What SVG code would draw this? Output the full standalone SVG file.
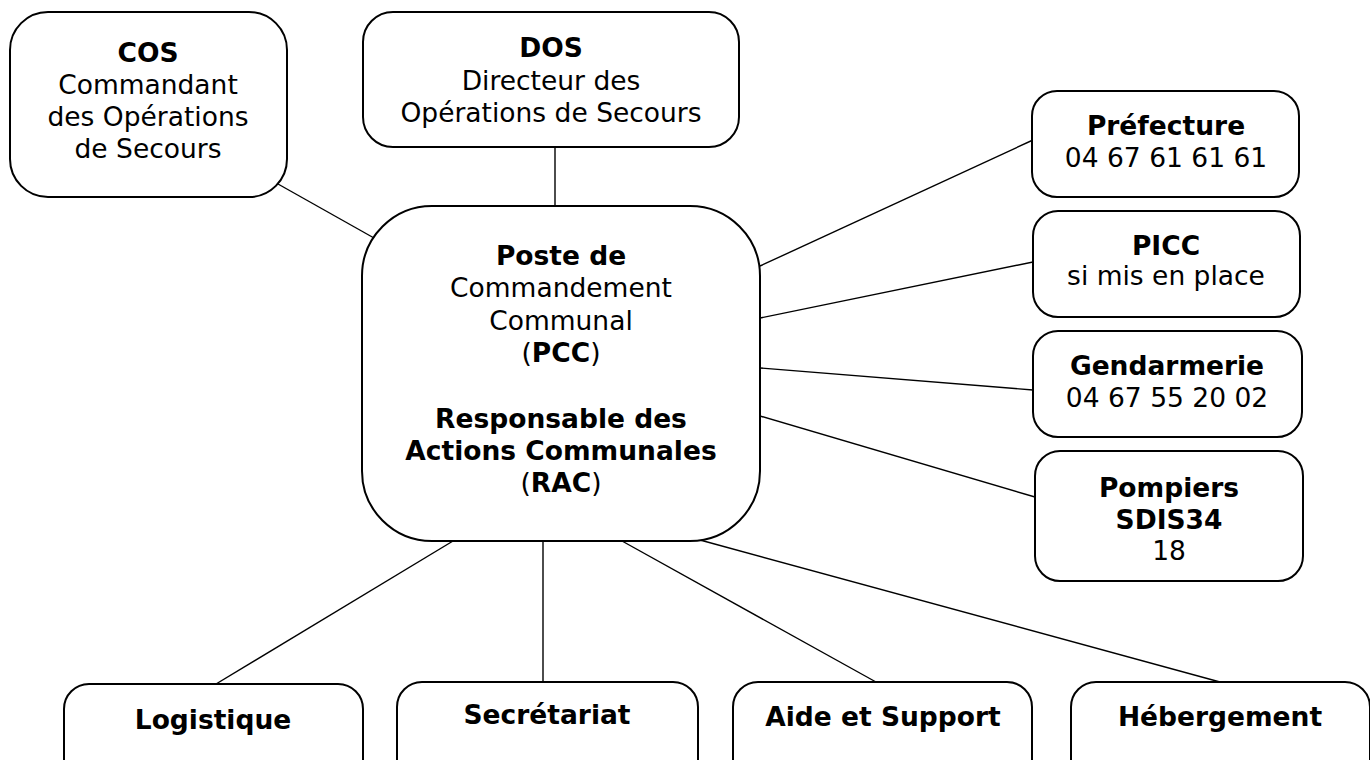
<svg xmlns="http://www.w3.org/2000/svg" width="1370" height="760" viewBox="0 0 1370 760">
<style>
.box{fill:#fff;stroke:#000;stroke-width:2}
.ln{stroke:#000;stroke-width:1.4;fill:none}
text{font-family:"DejaVu Sans","Verdana",sans-serif;font-size:26.5px;fill:#000;text-anchor:middle}
.b{font-weight:bold}
</style>
<rect width="1370" height="760" fill="#fff"/>
<g id="connectors">
<line class="ln" x1="278" y1="184" x2="374" y2="238"/>
<line class="ln" x1="555" y1="147" x2="555" y2="206"/>
<line class="ln" x1="760" y1="266" x2="1033" y2="140"/>
<line class="ln" x1="760" y1="318" x2="1033" y2="262"/>
<line class="ln" x1="760" y1="368" x2="1033" y2="390"/>
<line class="ln" x1="760" y1="416" x2="1035" y2="497"/>
<line class="ln" x1="453" y1="541" x2="216" y2="684"/>
<line class="ln" x1="543" y1="541" x2="543" y2="682"/>
<line class="ln" x1="622" y1="541" x2="876" y2="682"/>
<line class="ln" x1="700" y1="540" x2="1220" y2="682"/>
</g>
<g id="cos">
<rect class="box" x="10" y="12" width="277" height="185" rx="38"/>
<text x="148" y="62" class="b">COS</text>
<text x="148" y="94">Commandant</text>
<text x="148" y="126">des Opérations</text>
<text x="148" y="158">de Secours</text>
</g>
<g id="dos">
<rect class="box" x="363" y="12" width="376" height="135" rx="30"/>
<text x="551" y="57" class="b">DOS</text>
<text x="551" y="90">Directeur des</text>
<text x="551" y="122">Opérations de Secours</text>
</g>
<g id="pcc">
<rect class="box" x="362" y="206" width="398" height="335" rx="70"/>
<text x="561" y="265" class="b">Poste de</text>
<text x="561" y="297">Commandement</text>
<text x="561" y="330">Communal</text>
<text x="561" y="362">(<tspan class="b">PCC</tspan>)</text>
<text x="561" y="428" class="b">Responsable des</text>
<text x="561" y="460" class="b">Actions Communales</text>
<text x="561" y="492">(<tspan class="b">RAC</tspan>)</text>
</g>
<g id="prefecture">
<rect class="box" x="1032" y="91" width="267" height="106" rx="25"/>
<text x="1166" y="135" class="b">Préfecture</text>
<text x="1166" y="167">04 67 61 61 61</text>
</g>
<g id="picc">
<rect class="box" x="1033" y="211" width="267" height="106" rx="25"/>
<text x="1166" y="255" class="b">PICC</text>
<text x="1166" y="285">si mis en place</text>
</g>
<g id="gendarmerie">
<rect class="box" x="1033" y="331" width="269" height="106" rx="25"/>
<text x="1167" y="375" class="b">Gendarmerie</text>
<text x="1167" y="407">04 67 55 20 02</text>
</g>
<g id="pompiers">
<rect class="box" x="1035" y="451" width="268" height="130" rx="25"/>
<text x="1169" y="497" class="b">Pompiers</text>
<text x="1169" y="529" class="b">SDIS34</text>
<text x="1169" y="560">18</text>
</g>
<g id="logistique">
<rect class="box" x="64" y="684" width="299" height="120" rx="25"/>
<text x="213" y="729" class="b">Logistique</text>
</g>
<g id="secretariat">
<rect class="box" x="397" y="682" width="301" height="120" rx="25"/>
<text x="547" y="724" class="b">Secrétariat</text>
</g>
<g id="aide">
<rect class="box" x="733" y="682" width="299" height="120" rx="25"/>
<text x="883" y="726" class="b">Aide et Support</text>
</g>
<g id="hebergement">
<rect class="box" x="1071" y="682" width="299" height="120" rx="25"/>
<text x="1220" y="726" class="b">Hébergement</text>
</g>
</svg>
